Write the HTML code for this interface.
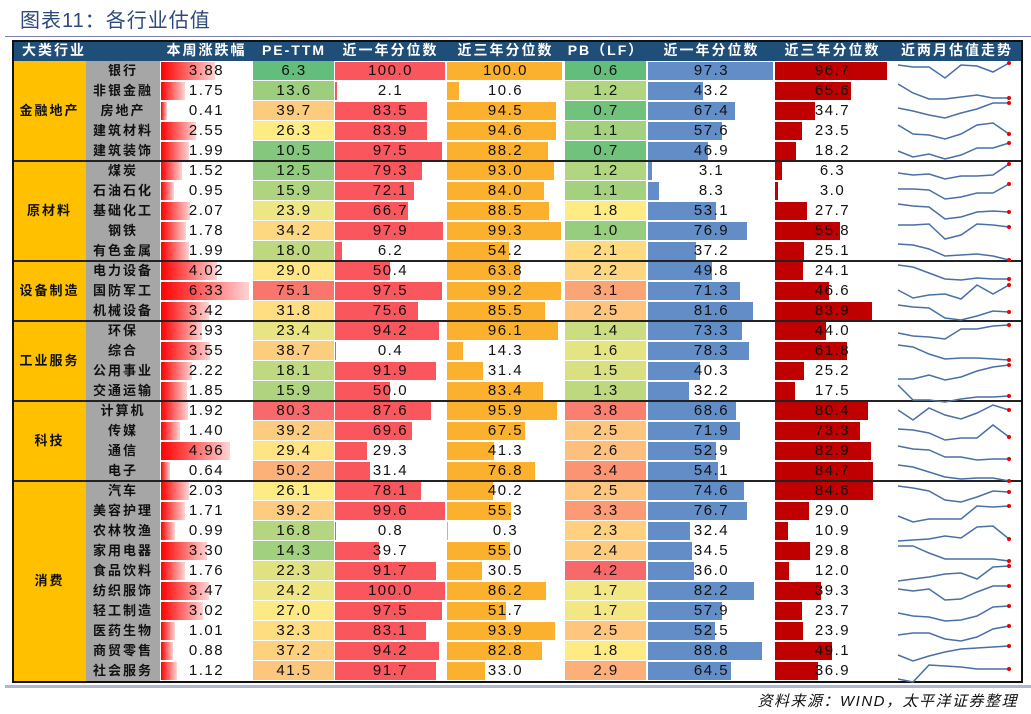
<!DOCTYPE html>
<html><head><meta charset="utf-8">
<style>
html,body{margin:0;padding:0;background:#fff;}
body{width:1031px;height:714px;position:relative;overflow:hidden;font-family:"Liberation Sans","Noto Sans CJK SC",sans-serif;}
.a{position:absolute;box-sizing:border-box;}
.t{position:absolute;text-align:center;font-size:15px;color:#111;letter-spacing:1.5px;line-height:20px;white-space:nowrap;}
.h{position:absolute;color:#fff;font-weight:bold;font-size:14px;line-height:20px;text-align:center;letter-spacing:2px;font-family:"Liberation Sans","Noto Sans CJK SC",sans-serif;}
.s{position:absolute;text-align:center;font-size:13px;font-weight:bold;color:#111;letter-spacing:2px;line-height:20px;font-family:"Liberation Sans","Noto Sans CJK SC",sans-serif;}
</style></head><body>
<div class="a" style="left:20px;top:4px;font-size:20px;color:#2f4a7a;letter-spacing:1px;font-family:'Liberation Sans','Noto Sans CJK SC',sans-serif;">图表11：各行业估值</div>
<div class="a" style="left:5px;top:36px;width:1026px;height:1px;background:#7a80b0;"></div>
<div id="tb"></div>
<div class="a" style="left:5px;top:685px;width:1026px;height:3px;background:#b0b6d0;"></div>
<div class="a" style="left:700px;top:690px;width:318px;text-align:right;font-size:15px;font-style:italic;color:#111;letter-spacing:1.5px;font-family:'Liberation Sans','Noto Sans CJK SC',sans-serif;">资料来源：WIND，太平洋证券整理</div>
<script>
var D=[
["银行",3.88,6.3,100.0,100.0,0.6,97.3,96.7],
["非银金融",1.75,13.6,2.1,10.6,1.2,43.2,65.6],
["房地产",0.41,39.7,83.5,94.5,0.7,67.4,34.7],
["建筑材料",2.55,26.3,83.9,94.6,1.1,57.6,23.5],
["建筑装饰",1.99,10.5,97.5,88.2,0.7,46.9,18.2],
["煤炭",1.52,12.5,79.3,93.0,1.2,3.1,6.3],
["石油石化",0.95,15.9,72.1,84.0,1.1,8.3,3.0],
["基础化工",2.07,23.9,66.7,88.5,1.8,53.1,27.7],
["钢铁",1.78,34.2,97.9,99.3,1.0,76.9,55.8],
["有色金属",1.99,18.0,6.2,54.2,2.1,37.2,25.1],
["电力设备",4.02,29.0,50.4,63.8,2.2,49.8,24.1],
["国防军工",6.33,75.1,97.5,99.2,3.1,71.3,46.6],
["机械设备",3.42,31.8,75.6,85.5,2.5,81.6,83.9],
["环保",2.93,23.4,94.2,96.1,1.4,73.3,44.0],
["综合",3.55,38.7,0.4,14.3,1.6,78.3,61.8],
["公用事业",2.22,18.1,91.9,31.4,1.5,40.3,25.2],
["交通运输",1.85,15.9,50.0,83.4,1.3,32.2,17.5],
["计算机",1.92,80.3,87.6,95.9,3.8,68.6,80.4],
["传媒",1.40,39.2,69.6,67.5,2.5,71.9,73.3],
["通信",4.96,29.4,29.3,41.3,2.6,52.9,82.9],
["电子",0.64,50.2,31.4,76.8,3.4,54.1,84.7],
["汽车",2.03,26.1,78.1,40.2,2.5,74.6,84.6],
["美容护理",1.71,39.2,99.6,55.3,3.3,76.7,29.0],
["农林牧渔",0.99,16.8,0.8,0.3,2.3,32.4,10.9],
["家用电器",3.30,14.3,39.7,55.0,2.4,34.5,29.8],
["食品饮料",1.76,22.3,91.7,30.5,4.2,36.0,12.0],
["纺织服饰",3.47,24.2,100.0,86.2,1.7,82.2,39.3],
["轻工制造",3.02,27.0,97.5,51.7,1.7,57.9,23.7],
["医药生物",1.01,32.3,83.1,93.9,2.5,52.5,23.9],
["商贸零售",0.88,37.2,94.2,82.8,1.8,88.8,49.1],
["社会服务",1.12,41.5,91.7,33.0,2.9,64.5,36.9]];
var SP=[[65,67,67,78,65,66,72,63],[84,93,99,99,97,95,98,98],[108,111,115,118,113,109,103,103],[125,134,135,139,134,125,123,134],[151,157,154,159,155,148,148,143],[173,175,174,179,176,176,175,164],[189,189,190,199,197,193,193,184],[204,206,207,219,217,212,211,212],[225,225,224,239,235,224,225,227],[244,245,249,256,255,254,256,260],[265,267,273,279,280,278,279,279],[290,298,295,294,299,285,294,285],[305,307,308,318,320,316,311,312],[333,336,337,339,329,329,326,325],[345,347,354,359,358,358,359,360],[379,379,375,380,377,371,367,365],[385,400,400,402,399,397,397,396],[410,420,408,415,419,413,405,410],[429,430,433,440,438,438,425,437],[446,449,450,457,457,460,459,459],[465,467,472,477,479,478,478,481],[486,488,491,500,502,497,491,492],[516,522,519,519,519,506,507,506],[541,540,539,536,538,527,526,539],[546,546,553,559,559,559,559,561],[581,579,577,574,573,579,567,566],[589,591,589,600,599,592,586,586],[613,616,617,621,620,616,607,606],[635,633,633,639,641,637,629,626],[655,661,656,652,649,648,647,646],[679,682,665,666,667,669,669,669]];
var G=[["金融地产",0,5],["原材料",5,5],["设备制造",10,3],["工业服务",13,4],["科技",17,4],["消费",21,10]];
var T=41,R=20,H="";
function box(x,y,w,h,bg,ex){H+='<div class="a" style="left:'+x+'px;top:'+y+'px;width:'+w+'px;height:'+h+'px;background:'+bg+';'+(ex||'')+'"></div>';}
function txt(x,y,w,s,cls){H+='<div class="'+(cls||'t')+'" style="left:'+x+'px;top:'+y+'px;width:'+w+'px;">'+s+'</div>';}
// header
box(12,40,1011,21,"#1f4e79");
txt(14,40,80,"大类行业","h");
var hc=[[161,91,"本周涨跌幅"],[253,82,"PE-TTM"],[335,111,"近一年分位数"],[447,117,"近三年分位数"],[565,82,"PB（LF）"],[648,127,"近一年分位数"],[775,115,"近三年分位数"],[891,132,"近两月估值走势"]];
hc.forEach(function(c){txt(c[0],40,c[1],c[2],"h");});
// scale colors
function lerp(a,b,t){return [0,1,2].map(function(i){return Math.round(a[i]+(b[i]-a[i])*t);});}
function scale(vals){var s=vals.slice().sort(function(a,b){return a-b});var mn=s[0],mx=s[s.length-1],md=s[Math.floor(s.length/2)];
 var g=[99,190,123],y=[255,235,132],r=[248,105,107];
 return vals.map(function(v){var c=v<=md?lerp(g,y,(v-mn)/(md-mn)):lerp(y,r,(v-md)/(mx-md));return "rgb("+c.join(",")+")";});}
var peC=scale(D.map(function(d){return d[2]})),pbC=scale(D.map(function(d){return d[5]}));
function f(v,n){return v.toFixed(n);}
D.forEach(function(d,i){var y=T+20+i*R;
 box(86,y,74,R,"#a6a6a6");
 txt(86,y,74,d[0],"s");
 box(161,y+1,Math.max(2,d[1]/6.33*88),R-2,"linear-gradient(to right,#ff0000,#ffd4d4)");
 txt(161,y,91,f(d[1],2));
 box(253,y,81,R,peC[i],"border-bottom:1px solid #fff;");
 txt(253,y,82,f(d[2],1));
 box(335,y+1,Math.max(1,d[3]/100*110),R-2,"#f9565e");
 txt(335,y,111,f(d[3],1));
 box(447,y+1,Math.max(1,d[4]/100*115),R-2,"#fbb02e");
 txt(447,y,117,f(d[4],1));
 box(565,y,81,R,pbC[i],"border-bottom:1px solid #fff;");
 txt(565,y,82,f(d[5],1));
 box(648,y+1,Math.max(1,d[6]/97.3*125),R-2,"#628dc6");
 txt(648,y,127,f(d[6],1));
 box(775,y+1,Math.max(1,d[7]/96.7*112),R-2,"#c00000");
 txt(775,y,115,f(d[7],1));
});
G.forEach(function(g){var y=T+20+g[1]*R,h=g[2]*R;box(13,y,73,h,"#ffc000");
 txt(13,y+h/2-10,73,g[0],"s");
 if(g[1]>0)box(12,y-1,1011,2,"#222");});
box(12,40,1011,643,"transparent","border:2px solid #111;");
// sparklines
var svg='<svg class="a" style="left:0;top:0" width="1031" height="714" xmlns="http://www.w3.org/2000/svg">';
var xs=[898,913,929,945,961,977,993,1009];
SP.forEach(function(p){var pts=xs.map(function(x,k){return x+","+p[k]}).join(" ");
 svg+='<polyline points="'+pts+'" fill="none" stroke="#4a6fa5" stroke-width="1.5"/>';
 svg+='<circle cx="1009" cy="'+p[7]+'" r="2" fill="#e00"/>';});
svg+='</svg>';
H+=svg;
document.getElementById("tb").innerHTML=H;
</script>
</body></html>
